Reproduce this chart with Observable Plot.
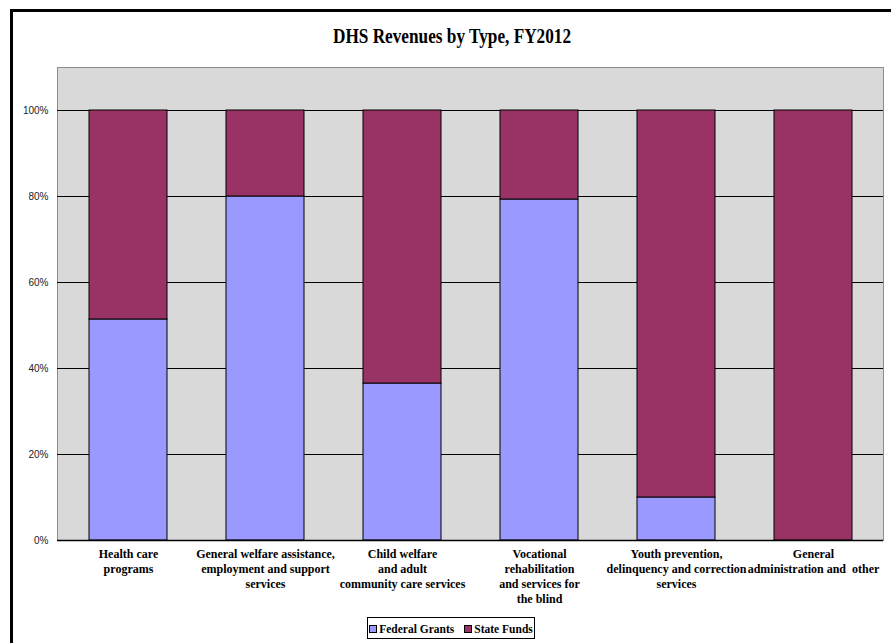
<!DOCTYPE html>
<html>
<head>
<meta charset="utf-8">
<script src="https://cdn.jsdelivr.net/npm/d3@7"></script>
<script src="https://cdn.jsdelivr.net/npm/@observablehq/plot@0.6"></script>
<style>
  html, body { margin: 0; padding: 0; background: #fff; }
  #wrap { position: relative; width: 891px; height: 643px; overflow: hidden; }
  #frame { position: absolute; left: 10px; top: 9px; width: 900px; height: 700px; border: 3px solid #000; box-sizing: border-box; }
  #title { position: absolute; left: 0; width: 904px; top: 24px; text-align: center;
           font-family: "Liberation Serif", "Times New Roman", serif; font-weight: bold; font-size: 21px;
           transform: scaleX(0.82); transform-origin: 452px 0; white-space: nowrap; }
  #chart { position: absolute; left: 0; top: 0; }
  #legend { position: absolute; left: 367px; top: 617px; width: 168px; height: 22px; box-sizing: border-box;
            border: 1px solid #000; background: #fff; display: flex; align-items: center; justify-content: center; gap: 10px;
            font-family: "Liberation Serif", "Times New Roman", serif; font-weight: bold; font-size: 11.5px; padding-top: 1px;
            white-space: nowrap; }
  .item { display: flex; align-items: center; gap: 2px; white-space: nowrap; }
  .sw { width: 6px; height: 6px; border: 1px solid #000; display: inline-block; flex: none; }
</style>
</head>
<body>
<div id="wrap">
  <div id="frame"></div>
  <div id="chart"></div>
  <div id="title">DHS Revenues by Type, FY2012</div>
  <div id="legend"></div>
</div>
<script>
const categories = [
  "Health care\nprograms",
  "General welfare assistance,\nemployment and support\nservices",
  "Child welfare\nand adult\ncommunity care services",
  "Vocational\nrehabilitation\nand services for\nthe blind",
  "Youth prevention,\ndelinquency and correction\nservices",
  "General\nadministration and  other"
];
const seriesNames = ["Federal Grants", "State Funds"];
const federalGrants = [0.514, 0.80, 0.365, 0.793, 0.10, 0.0];
const stateFunds = [0.486, 0.20, 0.635, 0.207, 0.90, 1.0];
const seriesColors = ["#9999ff", "#993366"];
const yTicks = [0, 0.2, 0.4, 0.6, 0.8, 1.0];

const data = [];
categories.forEach((c, i) => {
  data.push({category: c, series: seriesNames[0], value: federalGrants[i]});
  data.push({category: c, series: seriesNames[1], value: stateFunds[i]});
});

const chart = Plot.plot({
  width: 891,
  height: 643,
  marginLeft: 57,
  marginRight: 8,
  marginTop: 67,
  marginBottom: 103,
  style: {background: "transparent", fontFamily: "Liberation Sans, Arial, sans-serif", fontSize: "10px", color: "#222"},
  x: {domain: categories, paddingInner: 0.434, paddingOuter: 0.217, axis: null},
  y: {domain: [0, 1.1], ticks: yTicks, tickFormat: d => Math.round(d * 100) + "%", tickSize: 0, tickPadding: 9, label: null},
  color: {domain: seriesNames, range: seriesColors},
  marks: [
    Plot.frame({fill: "#d9d9d9", stroke: "#8c8c8c"}),
    Plot.ruleY(yTicks.slice(1), {stroke: "#000", strokeWidth: 1}),
    Plot.barY(data, {x: "category", y: "value", fill: "series", stroke: "#000", strokeWidth: 1, order: seriesNames}),
    Plot.ruleY([0], {stroke: "#000", strokeWidth: 1.5}),
    Plot.text(categories, {x: d => d, y: () => 0, text: d => d, dy: 7, lineAnchor: "top", lineHeight: 1.25,
      fontFamily: "Liberation Serif, Times New Roman, serif", fontWeight: "bold", fontSize: 12, fill: "#000"})
  ]
});
document.getElementById("chart").appendChild(chart);

const legend = document.getElementById("legend");
seriesNames.forEach((s, i) => {
  const it = document.createElement("span");
  it.className = "item";
  const sw = document.createElement("span");
  sw.className = "sw";
  sw.style.background = seriesColors[i];
  it.appendChild(sw);
  it.appendChild(document.createTextNode(s));
  legend.appendChild(it);
});
</script>
</body>
</html>
